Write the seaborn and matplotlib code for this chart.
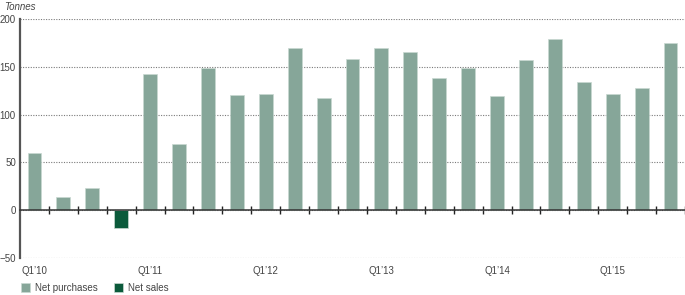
import matplotlib
matplotlib.use('Agg')
import matplotlib.pyplot as plt
import seaborn as sns
import pandas as pd
import numpy as np

quarters = ["Q1’10", "Q2’10", "Q3’10", "Q4’10",
            "Q1’11", "Q2’11", "Q3’11", "Q4’11",
            "Q1’12", "Q2’12", "Q3’12", "Q4’12",
            "Q1’13", "Q2’13", "Q3’13", "Q4’13",
            "Q1’14", "Q2’14", "Q3’14", "Q4’14",
            "Q1’15", "Q2’15", "Q3’15"]
values = [60, 14, 23, -19,
          142, 69, 149, 120,
          122, 170, 117, 158,
          170, 166, 138, 149,
          119, 157, 179, 134,
          122, 128, 175]
kinds = ["Net purchases" if v >= 0 else "Net sales" for v in values]
series_names = ["Net purchases", "Net sales"]
series_colors = ["#86a699", "#0b5a3b"]
label_quarters = ["Q1’10", "Q1’11", "Q1’12", "Q1’13", "Q1’14", "Q1’15"]
yticks = [-50, 0, 50, 100, 150, 200]

sns.set_theme(style='white')
plt.rcParams['font.family'] = ['Liberation Sans', 'DejaVu Sans']

W, H = 685, 295
fig = plt.figure(figsize=(W / 100, H / 100), dpi=100)
ax = fig.add_axes([20 / W, 1 - 258 / H, 665 / W, 239 / H])

df = pd.DataFrame({'quarter': quarters, 'value': values, 'type': kinds})
sns.barplot(data=df, x='quarter', y='value', hue='type', order=quarters,
            hue_order=series_names, palette=dict(zip(series_names, series_colors)),
            dodge=False, width=0.48, saturation=1, ax=ax, legend=True,
            edgecolor='#c9d8d1', linewidth=0.5)

ax.set_xlim(-0.5, len(quarters) - 0.5)
ax.set_ylim(-50, 200)
ax.set_yticks(yticks)
ax.set_xlabel('')
ax.set_ylabel('')

ax.yaxis.grid(True, linestyle=(0, (1, 1.3)), color='#7a7a7a', linewidth=0.8)
ax.xaxis.grid(False)
ax.set_axisbelow(True)

for s in ['top', 'right']:
    ax.spines[s].set_visible(False)
ax.spines['bottom'].set_position(('data', 0))
ax.spines['bottom'].set_color('#333333')
ax.spines['bottom'].set_linewidth(1.1)
ax.spines['left'].set_color('#555555')
ax.spines['left'].set_linewidth(1.6)

pos = [quarters.index(q) for q in label_quarters]
ax.set_xticks(pos)
ax.set_xticklabels(label_quarters)
ax.set_xticks(np.arange(0.5, len(quarters), 1.0), minor=True)
ax.tick_params(axis='x', which='major', length=0, pad=40, labelsize=7, labelcolor='#444444')
ax.tick_params(axis='x', which='minor', direction='inout', length=6, width=1, color='#222222', bottom=True)
ax.tick_params(axis='y', length=0, pad=3, labelsize=7, labelcolor='#444444')

handles, labels = ax.get_legend_handles_labels()
ax.legend(handles, labels, loc='center left', bbox_to_anchor=(12 / W, 1 - 288 / H),
          bbox_transform=fig.transFigure, ncol=2, frameon=False, fontsize=7,
          handlelength=1.0, handleheight=1.0, handletextpad=0.5, columnspacing=1.6,
          labelcolor='#444444')

fig.text(4 / W, 1 - 7 / H, 'Tonnes', style='italic', va='center', ha='left',
         fontsize=7, color='#444444')

fig.savefig('out.png', dpi=100)
